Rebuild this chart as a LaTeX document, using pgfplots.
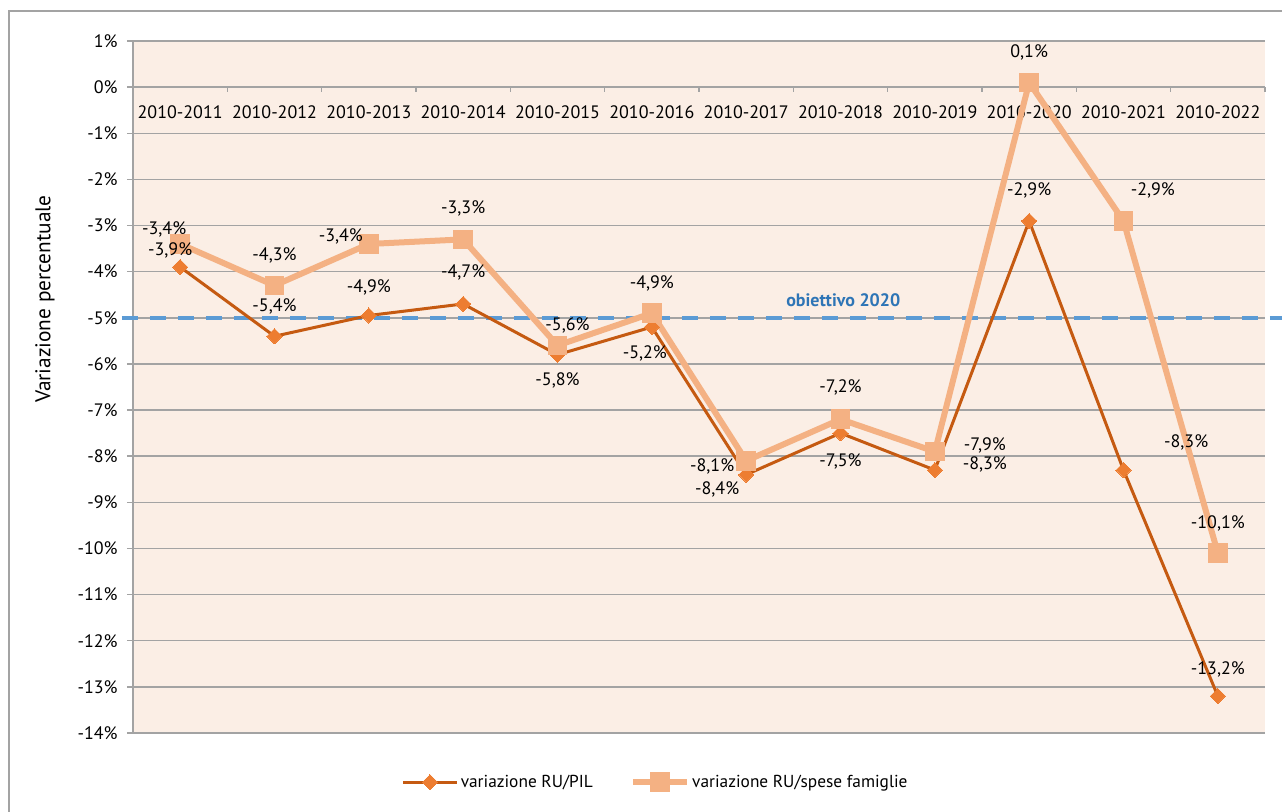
\documentclass[border=0pt]{standalone}
\usepackage{pgfplots}
\pgfplotsset{compat=1.18}
\usepackage{pgfplotstable}
\usepackage{fontspec}
\setmainfont{PT Sans}
\definecolor{bgc}{HTML}{FBEEE5}
\definecolor{gridc}{HTML}{A3A3A3}
\definecolor{pilline}{HTML}{C55A11}
\definecolor{pilmark}{HTML}{ED7D31}
\definecolor{spese}{HTML}{F4B183}
\definecolor{target}{HTML}{5B9BD5}
\definecolor{targettxt}{HTML}{2E75B6}
\newcommand{\myfont}{\fontsize{13.5}{16}\selectfont}

\pgfplotstableread{
x y lab dx dy
0 -3.9 {-3,9\%} -7.5 12.75
1 -5.4 {-5,4\%} 0 22.5
2 -4.95 {-4,9\%} 0 21
3 -4.7 {-4,7\%} 0 23.5
4 -5.8 {-5,8\%} 0 -19.5
5 -5.2 {-5,2\%} -5.25 -20
6 -8.4 {-8,4\%} -21.75 -11.25
7 -7.5 {-7,5\%} 0 -21
8 -8.3 {-8,3\%} 37.5 4.5
9 -2.9 {-2,9\%} 0 23
10 -8.3 {-8,3\%} 47 21
11 -13.2 {-13,2\%} 0 20
}\pil

\pgfplotstableread{
x y lab dx dy
0 -3.4 {-3,4\%} -12 11.25
1 -4.3 {-4,3\%} 0 22.5
2 -3.4 {-3,4\%} -21 6
3 -3.3 {-3,3\%} 0 23
4 -5.6 {-5,6\%} 7.5 15
5 -4.9 {-4,9\%} 0 22
6 -8.1 {-8,1\%} -25.5 -4.5
7 -7.2 {-7,2\%} 0 24
8 -7.9 {-7,9\%} 37.5 4.5
9 0.1 {0,1\%} 0 22.5
10 -2.9 {-2,9\%} 22 23
11 -10.1 {-10,1\%} 0 22
}\spese

\pgfplotsset{lbls/.style={
  draw=none, mark=none, forget plot,
  nodes near coords={\pgfplotspointmeta},
  point meta=explicit symbolic,
  visualization depends on={\thisrow{dx}\as\dx},
  visualization depends on={\thisrow{dy}\as\dy},
  nodes near coords style={anchor=center, xshift=\dx pt, yshift=\dy pt, text=black, font=\myfont},
}}

\begin{document}
\begin{tikzpicture}[font=\myfont]
\path[use as bounding box] (-99.75pt,-58.5pt) rectangle (861.75pt,549.75pt);
\begin{axis}[
  scale only axis,
  width=849pt, height=519pt,
  xmin=-0.5, xmax=11.5, ymin=-14, ymax=1,
  clip=false,
  axis background/.style={fill=bgc},
  axis x line=middle,
  axis y line=left,
  x axis line style={draw=none},
  y axis line style={draw=gridc, line width=1.1pt, -},
  hide obscured x ticks=false,
  hide obscured y ticks=false,
  xtick={0,...,11},
  xticklabels={2010-2011,2010-2012,2010-2013,2010-2014,2010-2015,2010-2016,2010-2017,2010-2018,2010-2019,2010-2020,2010-2021,2010-2022},
  ytick={-14,...,1},
  yticklabels={-14\%,-13\%,-12\%,-11\%,-10\%,-9\%,-8\%,-7\%,-6\%,-5\%,-4\%,-3\%,-2\%,-1\%,0\%,1\%},
  ymajorgrids,
  grid style={draw=gridc, line width=1.1pt},
  tick align=outside,
  x tick style={draw=none},
  y tick style={draw=gridc, line width=1.1pt},
  major tick length=4.5pt,
  tick label style={font=\myfont, text=black},
  xticklabel style={anchor=center, yshift=-14.5pt},
  yticklabel style={anchor=east, xshift=-3.5pt},
  ylabel={Variazione percentuale},
  ylabel style={font=\fontsize{16}{19}\selectfont, at={(axis description cs:-0.0777,0.627)}, anchor=center},
  legend style={font=\fontsize{13}{16}\selectfont, draw=none, fill=none, at={(0.462,-0.071)}, anchor=center,
    legend columns=2, /tikz/every even column/.append style={column sep=26pt},
    legend cell align=left},
  legend image code/.code={\draw[#1, mark repeat=2, mark phase=2] plot coordinates {(0pt,0pt) (20pt,0pt) (40pt,0pt)};},
]
% category boundary ticks below the 0% line
\addplot[gridc, line width=1.1pt, forget plot, unbounded coords=jump] coordinates {
(-0.5,0) (-0.5,-0.11) (-0.5,nan)
(0.5,0) (0.5,-0.11) (0.5,nan)
(1.5,0) (1.5,-0.11) (1.5,nan)
(2.5,0) (2.5,-0.11) (2.5,nan)
(3.5,0) (3.5,-0.11) (3.5,nan)
(4.5,0) (4.5,-0.11) (4.5,nan)
(5.5,0) (5.5,-0.11) (5.5,nan)
(6.5,0) (6.5,-0.11) (6.5,nan)
(7.5,0) (7.5,-0.11) (7.5,nan)
(8.5,0) (8.5,-0.11) (8.5,nan)
(9.5,0) (9.5,-0.11) (9.5,nan)
(10.5,0) (10.5,-0.11) (10.5,nan)
(11.5,0) (11.5,-0.11)
};
\addplot[target, line width=3pt, dash pattern=on 12pt off 9pt, forget plot] coordinates {(-0.617,-5) (11.68,-5)};
\node[font=\myfont\bfseries, text=targettxt] at (axis cs:7.03,-4.62) {obiettivo 2020};
\addplot[pilline, line width=2.25pt, mark=square*, mark size=4pt, mark options={rotate=45, fill=pilmark, draw=pilmark, line width=0pt}] table[x=x, y=y] {\pil};
\addlegendentry{variazione RU/PIL}
\addplot[spese, line width=4.5pt, mark=square*, mark size=7pt, mark options={fill=spese, draw=spese, line width=0pt}] table[x=x, y=y] {\spese};
\addlegendentry{variazione RU/spese famiglie}
\addplot[lbls] table[x=x, y=y, meta=lab] {\pil};
\addplot[lbls] table[x=x, y=y, meta=lab] {\spese};
\end{axis}
\draw[gridc, line width=1.1pt] (-93pt,-70pt) -- (-93pt,541.5pt) -- (880pt,541.5pt);
\end{tikzpicture}
\end{document}
